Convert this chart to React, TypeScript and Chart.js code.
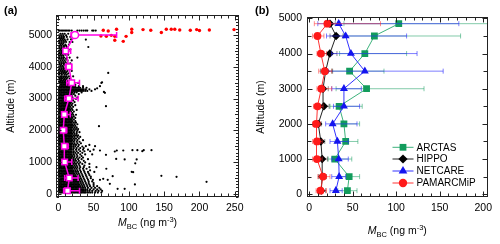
import React, { useEffect, useRef } from "react";
import { Chart, registerables } from "chart.js";

Chart.register(...registerables);

const FONT = "'Liberation Sans', Arial, Helvetica, sans-serif";

// ---------------- Tick labels ----------------
const aXTicks = [0, 50, 100, 150, 200, 250];
const aYTicks = [0, 1000, 2000, 3000, 4000, 5000];
const bXTicks = [0, 50, 100, 150, 200];
const bYTicks = [0, 1000, 2000, 3000, 4000, 5000];

// ---------------- Panel (a) data ----------------
// binned mean profile (magenta)
const profileAlt = [100, 500, 1000, 1500, 2000, 2500, 3000, 3500, 4000, 4500, 5000];
const profileMbc = [13, 15.5, 9, 8.5, 7, 8.5, 15, 19, 15, 10.4, 23.6];
const profileLow = [7.5, 9, 5.5, 6, 4.5, 6, 9, 12, 10, 7, 18];
const profileHigh = [30, 28, 19, 14, 12, 17, 28, 30, 19, 17.5, 82.6];

// individual measurements, rows: [altitude, MBC values...]
const dotRows: number[][] = [
  [40, 1, 3, 5, 7, 9, 11, 13, 15, 17, 19, 21, 23, 25, 27, 29, 31, 33, 35, 37, 39, 42, 45, 48, 52, 56, 61],
  [90, 0.5, 2, 4, 6, 8, 10, 12, 14, 16, 18, 20, 22, 24, 26, 28, 30, 32, 34, 36, 38, 41, 44, 48, 53, 57, 62],
  [140, 1, 3, 5, 7, 9, 11, 13, 15, 17, 19, 21, 23, 25, 27, 29, 31, 33, 35, 38, 41, 45, 50, 55, 60],
  [190, 0.5, 2, 4, 6, 8, 10, 12, 14, 16, 18, 20, 22, 24, 26, 28, 30, 32, 35, 38, 42, 47, 52, 58],
  [240, 1, 3, 5, 7, 9, 11, 13, 15, 17, 19, 21, 23, 25, 27, 29, 31, 34, 37, 41, 45, 50, 55],
  [290, 0.5, 2, 4, 6, 8, 10, 12, 14, 16, 18, 20, 22, 24, 26, 28, 30, 33, 36, 40, 44, 50],
  [340, 1, 3, 5, 7, 9, 11, 13, 15, 17, 19, 21, 23, 25, 27, 29, 32, 35, 39, 43, 50],
  [390, 0.5, 2, 4, 6, 8, 10, 12, 14, 16, 18, 20, 22, 24, 26, 28, 31, 34, 38, 43, 48],
  [440, 1, 3, 5, 7, 9, 11, 13, 15, 17, 19, 21, 23, 25, 27, 30, 33, 37, 42, 49],
  [490, 0.5, 2, 4, 6, 8, 10, 12, 14, 16, 18, 20, 22, 24, 26, 29, 32, 36, 41, 46],
  [540, 1, 3, 5, 7, 9, 11, 13, 15, 17, 19, 21, 23, 25, 28, 31, 35, 40, 46],
  [590, 0.5, 2, 4, 6, 8, 10, 12, 14, 16, 18, 20, 22, 24, 27, 30, 34, 39, 44],
  [640, 1, 3, 5, 7, 9, 11, 13, 15, 17, 19, 21, 23, 26, 29, 33, 38, 43],
  [690, 0.5, 2, 4, 6, 8, 10, 12, 14, 16, 18, 20, 22, 25, 28, 32, 37, 42, 51],
  [740, 1, 3, 5, 7, 9, 11, 13, 15, 17, 19, 21, 24, 27, 31, 36, 45],
  [790, 0.5, 2, 4, 6, 8, 10, 12, 14, 16, 18, 20, 23, 26, 30, 35, 40],
  [840, 1, 3, 5, 7, 9, 11, 13, 15, 17, 19, 21, 24, 27, 31, 36, 44],
  [890, 0.5, 2, 4, 6, 8, 10, 12, 14, 16, 18, 20, 23, 26, 30, 37],
  [940, 1, 3, 5, 7, 9, 11, 13, 15, 17, 19, 22, 25, 29, 34, 44],
  [990, 0.5, 2, 4, 6, 8, 10, 12, 14, 16, 18, 20, 23, 27, 31, 38],
  [1040, 1, 3, 5, 7, 9, 11, 13, 15, 17, 19, 22, 25, 29, 36],
  [1090, 0.5, 2, 4, 6, 8, 10, 12, 14, 16, 18, 21, 24, 28, 33, 42],
  [1140, 1, 3, 5, 7, 9, 11, 13, 15, 17, 19, 22, 26, 30, 35],
  [1190, 0.5, 2, 4, 6, 8, 10, 12, 14, 16, 18, 20, 23, 27, 33],
  [1240, 1, 3, 5, 7, 9, 11, 13, 15, 17, 19, 22, 26, 31, 38, 48],
  [1290, 0.5, 2, 4, 6, 8, 10, 12, 14, 16, 18, 21, 24, 28, 34],
  [1340, 1, 3, 5, 7, 9, 11, 13, 15, 17, 19, 22, 26, 31, 37, 45],
  [1390, 0.5, 2, 4, 6, 8, 10, 12, 14, 16, 18, 21, 25, 29, 35, 42, 50],
  [1440, 1, 3, 5, 7, 9, 11, 13, 15, 17, 19, 22, 26, 31, 36],
  [1490, 0.5, 2, 4, 6, 8, 10, 12, 14, 16, 18, 21, 24, 28, 34],
  [1540, 1, 3, 5, 7, 9, 11, 13, 15, 17, 19, 22, 25, 29],
  [1590, 0.5, 2, 4, 6, 8, 10, 12, 14, 16, 18, 20, 23, 27, 32],
  [1640, 1, 3, 5, 7, 9, 11, 13, 15, 17, 19, 22, 26, 30],
  [1690, 0.5, 2, 4, 6, 8, 10, 12, 14, 16, 18, 20, 23, 27, 35],
  [1740, 1, 3, 5, 7, 9, 11, 13, 15, 17, 19, 22, 25, 29],
  [1790, 0.5, 2, 4, 6, 8, 10, 12, 14, 16, 18, 20, 23, 27, 31],
  [1840, 1, 3, 5, 7, 9, 11, 13, 15, 17, 19, 22, 25, 28],
  [1890, 0.5, 2, 4, 6, 8, 10, 12, 14, 16, 18, 20, 23, 26],
  [1940, 1, 3, 5, 7, 9, 11, 13, 15, 17, 19, 22, 26, 30],
  [1990, 0.5, 2, 4, 6, 8, 10, 12, 14, 16, 18, 20, 23, 27],
  [2040, 1, 3, 5, 7, 9, 11, 13, 15, 17, 19, 22, 25, 28],
  [2090, 0.5, 2, 4, 6, 8, 10, 12, 14, 16, 18, 20, 23, 26],
  [2140, 1, 3, 5, 7, 9, 11, 13, 15, 17, 19, 21, 24],
  [2190, 0.5, 2, 4, 6, 8, 10, 12, 14, 16, 18, 20, 23, 27],
  [2240, 1, 3, 5, 7, 9, 11, 13, 15, 17, 19, 22, 25],
  [2290, 0.5, 2, 4, 6, 8, 10, 12, 14, 16, 18, 20, 24],
  [2340, 1, 3, 5, 7, 9, 11, 13, 15, 17, 19, 22],
  [2390, 0.5, 2, 4, 6, 8, 10, 12, 14, 16, 18, 20, 24],
  [2440, 1, 3, 5, 7, 9, 11, 13, 15, 17, 19, 22],
  [2490, 0.5, 2, 4, 6, 8, 10, 12, 14, 16, 18, 21, 25],
  [2540, 1, 3, 5, 7, 9, 11, 13, 15, 17, 20],
  [2590, 0.5, 2, 4, 6, 8, 10, 12, 14, 16, 18, 22],
  [2640, 1, 3, 5, 7, 9, 11, 13, 15, 17, 20, 26],
  [2690, 0.5, 2, 4, 6, 8, 10, 12, 14, 16, 19],
  [2740, 1, 3, 5, 7, 9, 11, 13, 15, 17, 21],
  [2790, 0.5, 2, 4, 6, 8, 10, 12, 14, 16, 19, 24],
  [2840, 1, 3, 5, 7, 9, 11, 13, 15, 17, 20],
  [2890, 0.5, 2, 4, 6, 8, 10, 12, 14, 16, 18, 23],
  [2940, 1, 3, 5, 7, 9, 11, 13, 15, 17, 21],
  [2990, 0.5, 2, 4, 6, 8, 10, 12, 14, 16, 19, 25],
  [3040, 1, 3, 5, 7, 9, 11, 13, 15, 17, 20, 27],
  [3090, 0.5, 2, 4, 6, 8, 10, 12, 14, 16, 19, 24],
  [3140, 1, 3, 5, 7, 9, 11, 13, 15, 17, 19, 22, 29],
  [3190, 0.5, 2, 4, 6, 8, 10, 12, 14, 16, 18, 20, 23, 26, 33],
  [3240, 1, 3, 5, 7, 9, 11, 13, 15, 17, 19, 21, 23, 25, 27, 29, 31, 33, 35, 38, 41, 47],
  [3290, 0.5, 2, 4, 6, 8, 10, 12, 14, 16, 18, 20, 22, 24, 26, 28, 30, 32, 34, 36, 39, 44, 52],
  [3340, 1, 3, 5, 7, 9, 11, 13, 15, 17, 19, 21, 23, 25, 27, 29, 31, 35, 40],
  [3390, 2, 4, 6, 8, 10, 12, 14, 16, 18, 20, 22, 24, 29, 35],
  [3440, 3, 5, 7, 9, 11, 13, 15, 17, 20, 24],
  [3490, 2, 4, 6, 8, 10, 12, 14, 18, 28],
  [3530, 1, 3, 6, 9, 12],
  [3560, 3, 5, 7, 10, 13, 17],
  [3600, 1, 4, 8, 11],
  [3630, 2, 4, 6, 9, 12, 16],
  [3670, 1, 4, 7, 10, 13],
  [3700, 3, 5, 8, 11, 15, 21],
  [3750, 1, 5, 9, 12],
  [3790, 2, 4, 7, 10, 14],
  [3830, 1, 5, 8, 11],
  [3870, 3, 6, 9, 13, 19],
  [3910, 1, 4, 7, 10],
  [3950, 2, 5, 8, 12, 16],
  [3990, 1, 4, 7],
  [4030, 3, 6, 10, 14],
  [4070, 1, 4, 8, 11],
  [4110, 2, 5, 8, 12, 17],
  [4150, 1, 4, 7, 10],
  [4200, 3, 6, 9, 13, 19],
  [4250, 1, 4, 7, 11],
  [4290, 2, 5, 8, 12, 16, 27],
  [4340, 1, 4, 7],
  [4380, 3, 6, 10, 14],
  [4420, 1, 4, 8],
  [4460, 2, 5, 8, 12],
  [4500, 1, 4, 7, 10],
  [4540, 3, 6, 9, 13, 17],
  [4580, 1, 4, 7],
  [4620, 2, 5, 8, 12],
  [4660, 1, 4, 8, 11],
  [4700, 3, 6, 10, 15],
  [4740, 1, 4, 7],
  [4780, 2, 5, 8, 11, 16, 20],
  [4820, 1, 4, 7, 10],
  [4860, 3, 6, 9, 13, 18],
  [4900, 1, 4, 7],
  [4940, 2, 5, 8, 12, 17, 22],
  [4990, 1, 4, 7, 11],
  [5040, 3, 6, 9, 14],
  [5140, 0.5, 2, 4, 6, 8, 10, 12, 14, 16, 19, 27, 30, 33, 36, 39, 41, 48, 50, 53],
];

// scattered high values
const outlierX = [39, 42.5, 70.7, 61, 59, 55, 64.6, 67.5, 57.6, 39, 44, 52, 59, 67.5, 80, 82.8, 92, 105, 112, 119, 121, 132, 111, 109, 104, 94, 82, 54, 68, 77, 146, 167.5, 210, 108.5, 84, 94, 73, 63.6, 59, 70, 106, 66, 62];
const outlierAlt = [4855, 4623, 3805, 3490, 3390, 3320, 3208, 2758, 2129, 1500, 1541, 1500, 1364, 1227, 1333, 1364, 1364, 1374, 1374, 1343, 1374, 1374, 1082, 960, 692, 1082, 1100, 840, 790, 557, 566, 535, 377, 296, 157, 157, 314, 471, 440, 440, 682, 3180, 3513];

// top-level measurements (red)
const redX = [63.7, 82.5, 68, 80, 80, 92, 96, 104, 104, 120, 131, 146, 153, 160, 165, 172, 187, 196, 200, 214, 249, 60.4, 70.7, 75];
const redAlt = [5148, 5183, 4958, 4958, 4833, 4801, 4958, 5183, 5079, 5170, 5148, 5079, 5180, 5180, 5180, 5160, 5150, 5170, 5140, 5160, 5170, 4970, 5126, 4990];

// ---------------- Panel (b) data ----------------
const bAlt = [100, 500, 1000, 1500, 2000, 2500, 3000, 3500, 4000, 4500, 4850];
const arctas = [44, 46, 29.5, 42, 40, 34.5, 66, 46.5, 64, 75, 103];
const arctasLow = [33, 35, 22, 30, 28, 24, 31, 26, 35, 40, 40];
const arctasHigh = [55, 58, 49, 56, 58, 61, 132, 86, 112, 174, 205];
const hippo = [14, 15, 15, 13.5, 10.5, 17, 16, 19, 23.8, 31, 24];
const hippoLow = [10, 11, 10, 9, 7, 12, 11, 13, 17, 24, 18];
const hippoHigh = [19, 20, 21, 18, 14, 23, 22, 27, 32, 39, 30];
const netcare = [30.7, 34.5, 34, 32.5, 27, 40, 40, 64, 48, 42, 34];
const netcareLow = [24, 26, 26, 24, 19, 28, 26, 22, 26, 20, 10];
const netcareHigh = [38, 42, 45, 45, 55, 58, 60, 154, 124, 112, 172];
const pam = [13, 16, 9, 9, 8, 9.6, 14, 18, 13.5, 9.6, 21];
const pamLow = [8, 10, 4, 4, 4, 5, 9, 11, 9, 4, 6];
const pamHigh = [20, 24, 15, 15, 13, 16, 26, 26, 20, 17, 82];

const legendNames = ["ARCTAS", "HIPPO", "NETCARE", "PAMARCMiP"];

// ---------------- helpers ----------------
const zip = (xs: number[], ys: number[]) => xs.map((x, i) => ({ x, y: ys[i] }));
function rowsToPoints(rows: number[][]) {
  const pts: { x: number; y: number }[] = [];
  for (const r of rows) for (let i = 1; i < r.length; i++) pts.push({ x: r[i], y: r[0] });
  return pts;
}

const MAGENTA = "rgb(255,0,230)";
const GREEN = "#129c5c";
const BLUE = "#1414f0";
const RED = "#ff1a1a";

const errorBarPlugin = {
  id: "errbars",
  beforeDatasetDraw(chart: any, args: any) {
    const ds: any = chart.data.datasets[args.index];
    if (!ds.errLow) return;
    const { ctx, chartArea: a, scales } = chart;
    const xs = scales.x;
    ctx.save();
    ctx.beginPath();
    ctx.rect(a.left, a.top, a.right - a.left, a.bottom - a.top);
    ctx.clip();
    ctx.strokeStyle = ds.errColor;
    ctx.lineWidth = ds.errWidth || 1;
    const cap = ds.errCap || 2.5;
    args.meta.data.forEach((el: any, i: number) => {
      const y = el.y;
      const xl = xs.getPixelForValue(ds.errLow[i]);
      const xh = xs.getPixelForValue(ds.errHigh[i]);
      ctx.beginPath();
      ctx.moveTo(xl, y);
      ctx.lineTo(xh, y);
      ctx.moveTo(xl, y - cap);
      ctx.lineTo(xl, y + cap);
      ctx.moveTo(xh, y - cap);
      ctx.lineTo(xh, y + cap);
      ctx.stroke();
    });
    ctx.restore();
  },
};

function makeFramePlugin(o: any) {
  return {
    id: "frame",
    afterDraw(chart: any) {
      const { ctx, chartArea: a, scales } = chart;
      const xs = scales.x;
      const ys = scales.y;
      const L = Math.round(a.left) + 0.5;
      const R = Math.round(a.right) - 0.5;
      const T = Math.round(a.top) + 0.5;
      const B = Math.round(a.bottom) - 0.5;
      ctx.save();
      ctx.strokeStyle = "#222";
      ctx.lineWidth = 1;
      ctx.beginPath();
      for (let k = Math.ceil(xs.min / o.xMinor); k * o.xMinor <= xs.max; k++) {
        const v = k * o.xMinor;
        const maj = v % o.xMajor === 0;
        const len = maj ? o.xMajLen : o.xMinLen;
        const px = Math.round(xs.getPixelForValue(v)) + 0.5;
        ctx.moveTo(px, B);
        ctx.lineTo(px, B - len);
        ctx.moveTo(px, T);
        ctx.lineTo(px, T + len);
      }
      for (let k = Math.ceil(ys.min / o.yMinor); k * o.yMinor <= ys.max; k++) {
        const v = k * o.yMinor;
        let len = o.yMinLen;
        if (v % o.yMajor === 0) len = o.yMajLen;
        else if (o.yMid && v % o.yMid === 0) len = o.yMidLen;
        const py = Math.round(ys.getPixelForValue(v)) + 0.5;
        ctx.moveTo(L, py);
        ctx.lineTo(L + len, py);
        ctx.moveTo(R, py);
        ctx.lineTo(R - len, py);
      }
      ctx.stroke();
      ctx.strokeRect(L, T, R - L, B - T);
      ctx.restore();
    },
  };
}

function drawMbcTitle(ctx: any, cx: number, baseline: number) {
  const parts = [
    { t: "M", f: `italic 10.5px ${FONT}`, dy: 0 },
    { t: "BC", f: `7.5px ${FONT}`, dy: 3 },
    { t: " (ng m", f: `10.5px ${FONT}`, dy: 0 },
    { t: "-3", f: `7.5px ${FONT}`, dy: -4.5 },
    { t: ")", f: `10.5px ${FONT}`, dy: 0 },
  ];
  ctx.save();
  ctx.fillStyle = "#000";
  ctx.textBaseline = "alphabetic";
  ctx.textAlign = "left";
  let total = 0;
  const w = parts.map((p) => {
    ctx.font = p.f;
    const m = ctx.measureText(p.t).width;
    total += m;
    return m;
  });
  let x = cx - total / 2;
  parts.forEach((p, i) => {
    ctx.font = p.f;
    ctx.fillText(p.t, x, baseline + p.dy);
    x += w[i];
  });
  ctx.restore();
}

function drawYTitle(ctx: any, x: number, y: number) {
  ctx.save();
  ctx.translate(x, y);
  ctx.rotate(-Math.PI / 2);
  ctx.font = `10.5px ${FONT}`;
  ctx.fillStyle = "#000";
  ctx.textAlign = "center";
  ctx.textBaseline = "middle";
  ctx.fillText("Altitude (m)", 0, 0);
  ctx.restore();
}

function drawPanelLabel(ctx: any, text: string, x: number, y: number) {
  ctx.save();
  ctx.font = `bold 11px ${FONT}`;
  ctx.fillStyle = "#000";
  ctx.textAlign = "left";
  ctx.textBaseline = "alphabetic";
  ctx.fillText(text, x, y);
  ctx.restore();
}

function drawMarker(ctx: any, style: string, x: number, y: number, r: number, color: string) {
  ctx.save();
  ctx.fillStyle = color;
  ctx.beginPath();
  if (style === "rect") {
    const s = r * Math.SQRT1_2;
    ctx.rect(x - s, y - s, 2 * s, 2 * s);
  } else if (style === "rectRot") {
    ctx.moveTo(x, y - r);
    ctx.lineTo(x + r, y);
    ctx.lineTo(x, y + r);
    ctx.lineTo(x - r, y);
    ctx.closePath();
  } else if (style === "triangle") {
    ctx.moveTo(x, y - r);
    ctx.lineTo(x + r * 0.866, y + r * 0.5);
    ctx.lineTo(x - r * 0.866, y + r * 0.5);
    ctx.closePath();
  } else {
    ctx.arc(x, y, r, 0, Math.PI * 2);
  }
  ctx.fill();
  ctx.restore();
}

function axisCfg(min: number, max: number, vals: number[], size: { w?: number; h?: number }, padding: number) {
  return {
    type: "linear" as const,
    min,
    max,
    afterBuildTicks: (s: any) => {
      s.ticks = vals.map((value) => ({ value }));
    },
    afterFit: (s: any) => {
      if (size.w !== undefined) s.width = size.w;
      if (size.h !== undefined) s.height = size.h;
    },
    grid: { display: false, drawTicks: false },
    border: { display: false },
    ticks: {
      autoSkip: false,
      maxRotation: 0,
      padding,
      color: "#000",
      font: { family: FONT, size: 10.5 },
      callback: (v: any) => String(v),
    },
  };
}

export default function App() {
  const refA = useRef<HTMLCanvasElement | null>(null);
  const refB = useRef<HTMLCanvasElement | null>(null);

  useEffect(() => {
    const decorA = {
      id: "decorA",
      afterDraw(chart: any) {
        const { ctx, chartArea: a } = chart;
        drawMbcTitle(ctx, (a.left + a.right) / 2, 226);
        drawYTitle(ctx, 11, (a.top + a.bottom) / 2);
        drawPanelLabel(ctx, "(a)", 4, 14);
      },
    };
    const chartA = new Chart(refA.current as HTMLCanvasElement, {
      type: "scatter",
      data: {
        datasets: [
          {
            label: "profile",
            data: zip(profileMbc, profileAlt),
            showLine: true,
            borderColor: MAGENTA,
            borderWidth: 1.5,
            pointStyle: profileAlt.map((_, i) => (i === profileAlt.length - 1 ? "circle" : "rect")),
            pointRadius: profileAlt.map((_, i) => (i === profileAlt.length - 1 ? 3.6 : 3.9)),
            pointBackgroundColor: "#fff",
            pointBorderColor: MAGENTA,
            pointBorderWidth: 1.5,
            order: 1,
            errLow: profileLow,
            errHigh: profileHigh,
            errColor: MAGENTA,
            errWidth: 1.5,
            errCap: 3,
          } as any,
          {
            label: "red",
            data: zip(redX, redAlt),
            pointRadius: 1.7,
            pointBackgroundColor: "#ff0000",
            pointBorderWidth: 0,
            order: 2,
          },
          {
            label: "outliers",
            data: zip(outlierX, outlierAlt),
            pointRadius: 1.1,
            pointBackgroundColor: "#000",
            pointBorderWidth: 0,
            order: 3,
          },
          {
            label: "dots",
            data: rowsToPoints(dotRows),
            pointRadius: 1.1,
            pointBackgroundColor: "#000",
            pointBorderWidth: 0,
            order: 4,
          },
        ],
      },
      options: {
        animation: false,
        responsive: false,
        events: [],
        layout: { padding: { left: 0, top: 15, right: 11, bottom: 0 } },
        plugins: { legend: { display: false }, tooltip: { enabled: false } },
        scales: {
          x: axisCfg(-3.3, 256, aXTicks, { h: 47 }, 5) as any,
          y: axisCfg(-100, 5630, aYTicks, { w: 56 }, 4) as any,
        },
      },
      plugins: [
        errorBarPlugin,
        makeFramePlugin({ xMinor: 10, xMajor: 50, xMinLen: 3, xMajLen: 5, yMinor: 100, yMajor: 1000, yMid: 500, yMinLen: 2.5, yMidLen: 3.5, yMajLen: 5 }),
        decorA,
      ],
    });

    const series = [
      { name: legendNames[0], v: arctas, lo: arctasLow, hi: arctasHigh, color: GREEN, line: "rgba(40,170,110,0.9)", err: "rgba(30,160,100,0.55)", style: "rect", r: 4.8, order: 4 },
      { name: legendNames[1], v: hippo, lo: hippoLow, hi: hippoHigh, color: "#000", line: "#222", err: "rgba(0,0,0,0.45)", style: "rectRot", r: 4.2, order: 3 },
      { name: legendNames[2], v: netcare, lo: netcareLow, hi: netcareHigh, color: BLUE, line: "rgba(30,30,255,0.9)", err: "rgba(40,40,255,0.6)", style: "triangle", r: 4.6, order: 2 },
      { name: legendNames[3], v: pam, lo: pamLow, hi: pamHigh, color: RED, line: "rgba(255,30,30,0.9)", err: "rgba(255,50,50,0.55)", style: "circle", r: 3.9, order: 1 },
    ];

    const decorB = {
      id: "decorB",
      afterDraw(chart: any) {
        const { ctx, chartArea: a } = chart;
        drawMbcTitle(ctx, (a.left + a.right) / 2, 234);
        drawYTitle(ctx, 11, (a.top + a.bottom) / 2);
        drawPanelLabel(ctx, "(b)", 5, 14);
        const rowY = [147.3, 159, 171, 183];
        series.forEach((s, i) => {
          const y = rowY[i];
          ctx.save();
          ctx.strokeStyle = s.line;
          ctx.lineWidth = 1;
          ctx.beginPath();
          ctx.moveTo(a.left + 86, y);
          ctx.lineTo(a.left + 107, y);
          ctx.stroke();
          ctx.restore();
          const mr = s.style === "rect" ? 4.8 : s.style === "rectRot" ? 4.6 : s.style === "triangle" ? 5 : 4.2;
          drawMarker(ctx, s.style, a.left + 96.5, y, mr, s.color);
          ctx.save();
          ctx.font = `10px ${FONT}`;
          ctx.fillStyle = "#000";
          ctx.textAlign = "left";
          ctx.textBaseline = "middle";
          ctx.fillText(s.name, a.left + 110, y + 0.5);
          ctx.restore();
        });
      },
    };

    const chartB = new Chart(refB.current as HTMLCanvasElement, {
      type: "scatter",
      data: {
        datasets: series.map(
          (s) =>
            ({
              label: s.name,
              data: zip(s.v, bAlt),
              showLine: true,
              borderColor: s.line,
              borderWidth: 1,
              pointStyle: s.style,
              pointRadius: s.r,
              pointBackgroundColor: s.color,
              pointBorderColor: s.color,
              pointBorderWidth: 0,
              order: s.order,
              errLow: s.lo,
              errHigh: s.hi,
              errColor: s.err,
              errWidth: 1,
              errCap: 2.5,
            }) as any
        ),
      },
      options: {
        animation: false,
        responsive: false,
        events: [],
        layout: { padding: { left: 0, top: 17, right: 12, bottom: 0 } },
        plugins: { legend: { display: false }, tooltip: { enabled: false } },
        scales: {
          x: axisCfg(-3, 205.5, bXTicks, { h: 47 }, 5) as any,
          y: axisCfg(-80, 5040, bYTicks, { w: 56.5 }, 4.5) as any,
        },
      },
      plugins: [
        errorBarPlugin,
        makeFramePlugin({ xMinor: 10, xMajor: 50, xMinLen: 3, xMajLen: 5, yMinor: 500, yMajor: 1000, yMinLen: 4, yMajLen: 5 }),
        decorB,
      ],
    });

    return () => {
      chartA.destroy();
      chartB.destroy();
    };
  }, []);

  return (
    <div style={{ position: "fixed", left: 0, top: 0, width: 500, height: 244, background: "#fff" }}>
      <canvas ref={refA} width={250} height={244} style={{ position: "absolute", left: 0, top: 0, width: 250, height: 244 }} />
      <canvas ref={refB} width={250} height={244} style={{ position: "absolute", left: 250, top: 0, width: 250, height: 244 }} />
    </div>
  );
}
